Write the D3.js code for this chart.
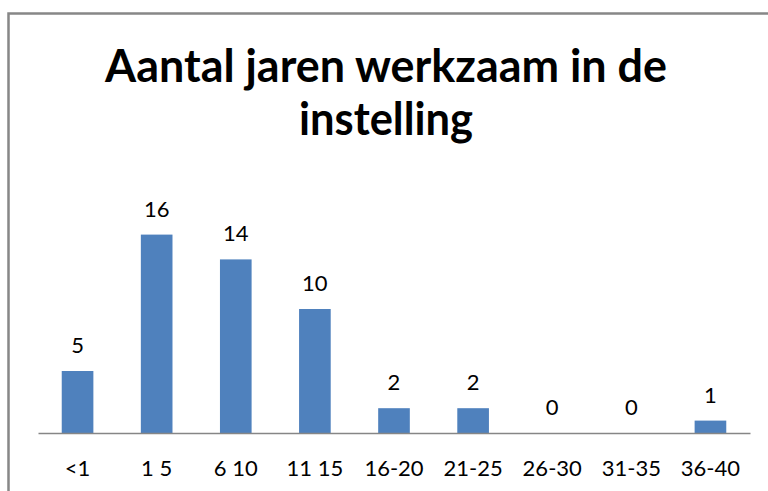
<!DOCTYPE html>
<html>
<head>
<meta charset="utf-8">
<script src="https://cdn.jsdelivr.net/npm/d3@7"></script>
<style>
  html, body { margin: 0; padding: 0; background: #fff; }
  svg { display: block; }
</style>
</head>
<body>
<svg id="chart" width="768" height="491"></svg>
<script>
const width = 768;
const height = 491;

// data
const categories = ['<1', '1 5', '6 10', '11 15', '16-20', '21-25', '26-30', '31-35', '36-40'];
const values = [5, 16, 14, 10, 2, 2, 0, 0, 1];
const titleLines = ['Aantal jaren werkzaam in de', 'instelling'];

const svg = d3.select('#chart');

// chart frame (cut off at right and bottom)
svg.append('path')
   .attr('d', 'M8.5,' + (height + 5) + 'V13.5H' + (width + 5))
   .attr('fill', 'none')
   .attr('stroke', '#878787')
   .attr('stroke-width', 2.5);

const x = d3.scaleBand()
            .domain(categories)
            .range([38, 750])
            .paddingInner(0.6)
            .paddingOuter(0.3);

const y = d3.scaleLinear()
            .domain([0, 18])
            .range([433, 209.8]);

// title
svg.append('g')
   .selectAll('text')
   .data(titleLines)
   .join('text')
   .attr('x', 386)
   .attr('y', function(d, i) { return 82 + i * 53; })
   .attr('text-anchor', 'middle')
   .attr('font-family', 'Lato, "Open Sans", sans-serif')
   .attr('font-weight', 'bold')
   .attr('font-size', 46)
   .attr('fill', '#000')
   .attr('textLength', function(d, i) { return i === 0 ? 562 : 174; })
   .attr('lengthAdjust', 'spacingAndGlyphs')
   .text(function(d) { return d; });

// bars
svg.append('g')
   .selectAll('rect')
   .data(values)
   .join('rect')
   .attr('x', function(d, i) { return x(categories[i]); })
   .attr('y', function(d) { return y(d); })
   .attr('width', x.bandwidth())
   .attr('height', function(d) { return y(0) - y(d); })
   .attr('fill', '#4F81BD');

// value labels
svg.append('g')
   .selectAll('text')
   .data(values)
   .join('text')
   .attr('x', function(d, i) { return x(categories[i]) + x.bandwidth() / 2; })
   .attr('y', function(d) { return y(d) - 18; })
   .attr('text-anchor', 'middle')
   .attr('font-family', 'Lato, "Open Sans", sans-serif')
   .attr('font-size', 22)
   .attr('fill', '#000')
   .text(function(d) { return d; });

// x axis
const xAxis = svg.append('g')
                 .attr('transform', 'translate(0,' + y(0) + ')')
                 .call(d3.axisBottom(x).tickSize(0).tickPadding(27));

xAxis.select('.domain')
     .attr('stroke', '#868686')
     .attr('stroke-width', 1.5);

xAxis.selectAll('text')
     .attr('font-family', 'Lato, "Open Sans", sans-serif')
     .attr('font-size', 22)
     .attr('fill', '#000');
</script>
</body>
</html>
